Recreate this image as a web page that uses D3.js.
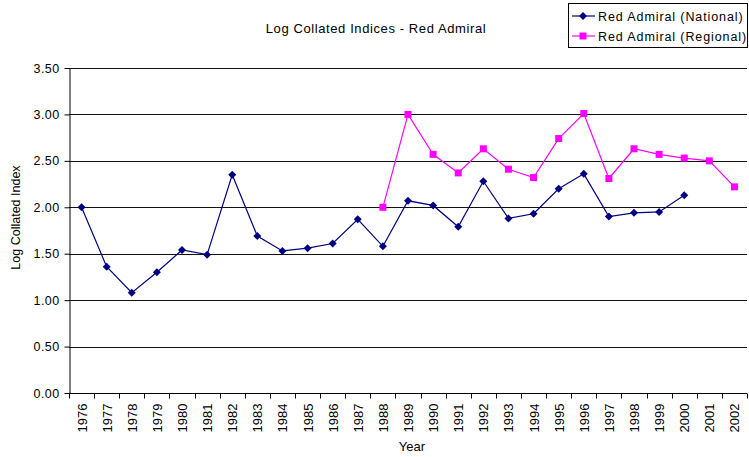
<!DOCTYPE html>
<html>
<head>
<meta charset="utf-8">
<title>Log Collated Indices - Red Admiral</title>
<script src="https://d3js.org/d3.v7.min.js"></script>
<style>
  body { margin: 0; background: #fff; }
  text { font-family: "Liberation Sans", Arial, sans-serif; fill: #000; }
</style>
</head>
<body>
<div id="chart"></div>
<script>
// chart data
const years = ["1976","1977","1978","1979","1980","1981","1982","1983","1984","1985","1986","1987","1988","1989",
               "1990","1991","1992","1993","1994","1995","1996","1997","1998","1999","2000","2001","2002"];
const national = [2.00, 1.36, 1.08, 1.30, 1.54, 1.49, 2.35, 1.69, 1.53, 1.56, 1.61, 1.87, 1.58, 2.07,
                  2.02, 1.79, 2.28, 1.88, 1.93, 2.20, 2.36, 1.90, 1.94, 1.95, 2.13, null, null];
const regional = [null, null, null, null, null, null, null, null, null, null, null, null, 2.00, 3.00,
                  2.57, 2.37, 2.63, 2.41, 2.32, 2.74, 3.01, 2.31, 2.63, 2.57, 2.53, 2.50, 2.22];
const yTicks = [0, 0.5, 1, 1.5, 2, 2.5, 3, 3.5];
const seriesNames = ["Red Admiral (National)", "Red Admiral (Regional)"];

const W = 749, H = 457;
const margin = {top: 68, right: 2, bottom: 64, left: 69};
const width = W - margin.left - margin.right,
      height = H - margin.top - margin.bottom;

const svg = d3.select("#chart").append("svg")
    .attr("width", W)
    .attr("height", H);

const g = svg.append("g")
    .attr("transform", "translate(" + margin.left + "," + margin.top + ")");

const x = d3.scaleBand().domain(years).range([0, width]);
const y = d3.scaleLinear().domain([0, 3.5]).range([height, 0]);

// horizontal gridlines
g.selectAll(".grid")
    .data(yTicks.filter(d => d > 0))
    .enter().append("line")
    .attr("x1", 0).attr("x2", width)
    .attr("y1", d => Math.round(y(d)) + 0.5)
    .attr("y2", d => Math.round(y(d)) + 0.5)
    .attr("stroke", "#111")
    .attr("stroke-width", 1);

// y axis
const yAxis = g.append("g")
    .attr("transform", "translate(0.5,0)")
    .call(d3.axisLeft(y).tickValues(yTicks).tickFormat(d3.format(".2f")).tickSize(5).tickSizeOuter(0));
yAxis.selectAll("text").style("font-size", "12.5px").attr("x", -10).style("letter-spacing", "0.4px");
yAxis.selectAll("line, path").attr("stroke", "#000");

// x axis, ticks sit between categories
const xAxis = g.append("g")
    .attr("transform", "translate(0," + (Math.round(height) + 0.5) + ")");
xAxis.append("line")
    .attr("x1", 0).attr("x2", width)
    .attr("stroke", "#000");
xAxis.selectAll(".tick")
    .data(years.concat(["end"]))
    .enter().append("line")
    .attr("x1", (d, i) => Math.round(i * x.step()) + 0.5)
    .attr("x2", (d, i) => Math.round(i * x.step()) + 0.5)
    .attr("y1", 0).attr("y2", 5)
    .attr("stroke", "#000");
xAxis.selectAll(".lbl")
    .data(years)
    .enter().append("text")
    .attr("transform", d => "translate(" + (x(d) + x.bandwidth() / 2 + 5) + ",10) rotate(-90)")
    .attr("text-anchor", "end")
    .style("font-size", "13px")
    .text(d => d);

// series lines
const line = d3.line()
    .defined(d => d.v != null)
    .x(d => x(d.year) + x.bandwidth() / 2)
    .y(d => y(d.v));

const natData = years.map((yr, i) => ({year: yr, v: national[i]}));
const regData = years.map((yr, i) => ({year: yr, v: regional[i]}));

g.append("path")
    .datum(regData)
    .attr("d", line)
    .attr("fill", "none")
    .attr("stroke", "#ff00ff")
    .attr("stroke-width", 1.2);

g.selectAll(".reg")
    .data(regData.filter(d => d.v != null))
    .enter().append("rect")
    .attr("x", d => x(d.year) + x.bandwidth() / 2 - 3.5)
    .attr("y", d => y(d.v) - 3.5)
    .attr("width", 7).attr("height", 7)
    .attr("fill", "#ff00ff");

g.append("path")
    .datum(natData)
    .attr("d", line)
    .attr("fill", "none")
    .attr("stroke", "#000080")
    .attr("stroke-width", 1.2);

// square diamond marker
const diamond = "M0,-4L4,0L0,4L-4,0Z";
g.selectAll(".nat")
    .data(natData.filter(d => d.v != null))
    .enter().append("path")
    .attr("d", diamond)
    .attr("transform", d => "translate(" + (x(d.year) + x.bandwidth() / 2) + "," + y(d.v) + ")")
    .attr("fill", "#000080");

// title and axis titles
svg.append("text")
    .attr("x", 376).attr("y", 33)
    .attr("text-anchor", "middle")
    .style("font-size", "13px")
    .style("letter-spacing", "0.6px")
    .text("Log Collated Indices - Red Admiral");

svg.append("text")
    .attr("x", margin.left + width / 2 + 4).attr("y", 451)
    .attr("text-anchor", "middle")
    .style("font-size", "13px")
    .text("Year");

svg.append("text")
    .attr("transform", "translate(20," + (margin.top + height / 2 - 13) + ") rotate(-90)")
    .attr("text-anchor", "middle")
    .style("font-size", "12.5px")
    .text("Log Collated Index");

// legend
const legend = svg.append("g").attr("transform", "translate(568,3)");
legend.append("rect")
    .attr("x", 0.5).attr("y", 0.5)
    .attr("width", 179).attr("height", 44)
    .attr("fill", "#fff")
    .attr("stroke", "#000");

const legColors = ["#000080", "#ff00ff"];
seriesNames.forEach((name, i) => {
    const ly = 13 + i * 20;
    legend.append("line")
        .attr("x1", 4).attr("x2", 27)
        .attr("y1", ly).attr("y2", ly)
        .attr("stroke", legColors[i])
        .attr("stroke-width", 1.2);
    if (i === 0) {
        legend.append("path")
            .attr("d", diamond)
            .attr("transform", "translate(15," + ly + ")")
            .attr("fill", legColors[i]);
    } else {
        legend.append("rect")
            .attr("x", 11.5).attr("y", ly - 3.5)
            .attr("width", 7).attr("height", 7)
            .attr("fill", legColors[i]);
    }
    legend.append("text")
        .attr("x", 30).attr("y", ly + 4.5)
        .style("font-size", "12.5px")
        .style("letter-spacing", "0.9px")
        .text(name);
});
</script>
</body>
</html>
